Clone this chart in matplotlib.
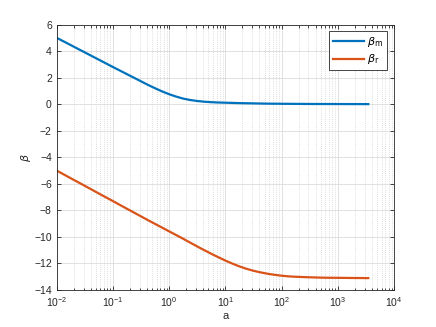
import matplotlib.pyplot as plt
import numpy as np

# valores (exponente de a, escala log)
a_exp = [-2.0, -1.75, -1.5, -1.25, -1.0, -0.75, -0.5, -0.375, -0.25, -0.125,
         0.0, 0.125, 0.25, 0.375, 0.5, 0.625, 0.75, 0.875, 1.0, 1.125,
         1.25, 1.375, 1.5, 1.625, 1.75, 1.875, 2.0, 2.125, 2.25, 2.5,
         2.75, 3.0, 3.25, 3.54]
beta_m = [5.00, 4.45, 3.90, 3.35, 2.80, 2.26, 1.72, 1.45, 1.20, 0.96,
          0.75, 0.57, 0.42, 0.315, 0.24, 0.186, 0.15, 0.126, 0.11, 0.095,
          0.08, 0.07, 0.06, 0.05, 0.04, 0.035, 0.03, 0.027, 0.022, 0.015,
          0.012, 0.01, 0.007, 0.005]
beta_r = [-5.00, -5.58, -6.15, -6.73, -7.30, -7.88, -8.45, -8.74, -9.02, -9.30,
          -9.58, -9.86, -10.14, -10.43, -10.72, -11.00, -11.27, -11.53, -11.78, -12.01,
          -12.22, -12.40, -12.55, -12.67, -12.77, -12.855, -12.92, -12.97, -13.00, -13.04,
          -13.07, -13.08, -13.09, -13.10]
y_ticks = list(range(-14, 7, 2))

a_vals = 10.0 ** np.array(a_exp)

txt = '#262626'
plt.rcParams['font.family'] = ['Liberation Sans', 'DejaVu Sans']
plt.rcParams['mathtext.fontset'] = 'dejavusans'

fig = plt.figure(figsize=(4.36, 3.27), dpi=100)
ax = fig.add_axes([0.13, 0.113, 0.774, 0.812])

ax.plot(a_vals, beta_m, color='#0072BD', lw=1.6, label=r'$\beta_{\rm m}$')
ax.plot(a_vals, beta_r, color='#D95319', lw=1.6, label=r'$\beta_{\rm r}$')

ax.set_xscale('log')
ax.set_xlim(1e-2, 1e4)
ax.set_ylim(-14, 6)
ax.set_yticks(y_ticks)
ax.set_xticks([1e-2, 1e-1, 1e0, 1e1, 1e2, 1e3, 1e4])

ax.grid(True, which='major', color='#dcdcdc', lw=0.6, ls='-')
ax.grid(True, which='minor', axis='x', color='#c0c0c0', lw=0.5, ls=(0, (1, 2)))
ax.set_axisbelow(True)

ax.tick_params(which='both', direction='in', top=True, right=True,
               colors=txt, labelsize=7.5, width=0.6)
ax.tick_params(which='major', length=3)
ax.tick_params(which='minor', length=1.8)
for s in ax.spines.values():
    s.set_color(txt)
    s.set_linewidth(0.6)

ax.set_xlabel('a', color=txt, fontsize=8, labelpad=2)
ax.set_ylabel(r'$\beta$', color=txt, fontsize=8, labelpad=1)

leg = ax.legend(loc='upper right', fontsize=8, handlelength=2.8,
                fancybox=False, edgecolor=txt, framealpha=1,
                borderaxespad=0.6, borderpad=0.35, handletextpad=0.3,
                labelspacing=0.3)
leg.get_frame().set_linewidth(0.6)

fig.savefig('out.png', dpi=100)
